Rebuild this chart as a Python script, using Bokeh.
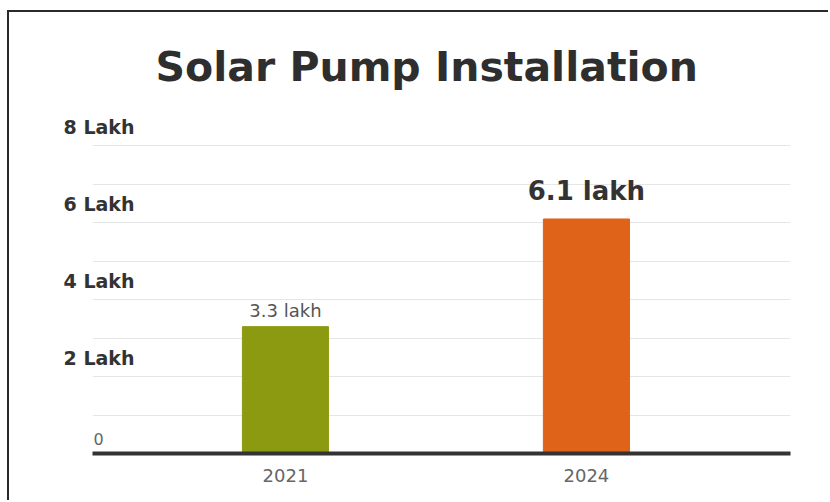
from bokeh.plotting import figure
from bokeh.models import FixedTicker, Label, Range1d, LinearAxis
from bokeh.core.properties import value
from bokeh.embed import file_html
from bokeh.resources import INLINE

# ---- data ----
years = ["2021", "2024"]
installs_lakh = [3.3, 6.1]
value_labels = ["3.3 lakh", "6.1 lakh"]
bar_colors = ["#8C9A12", "#DF6318"]
y_tick_values = [0, 2, 4, 6, 8]
y_tick_labels = ["0", "2 Lakh", "4 Lakh", "6 Lakh", "8 Lakh"]
grid_values = [1, 2, 3, 4, 5, 6, 7, 8]
title_text = "Solar Pump Installation"

xs = list(range(len(years)))
x_start, x_end = -0.641, 1.678
y_start, y_end = 0, 9.0
label_shift = 0.49  # vertical lift of y labels above their gridline (in lakh)

p = figure(width=821, height=490, output_backend="svg", toolbar_location=None,
           x_range=Range1d(x_start, x_end), y_range=Range1d(y_start, y_end),
           min_border_left=83, min_border_right=40, min_border_top=95,
           min_border_bottom=49)
p.styles = {"margin-top": "10px", "margin-left": "7px",
            "border-top": "2px solid #2a2a2a", "border-left": "2px solid #2a2a2a"}
p.outline_line_color = None
p.background_fill_color = "white"
p.border_fill_color = "white"

# title
p.title.text = title_text
p.title.align = "left"
p.title.offset = 63
p.title.standoff = 33
p.title.text_font = "DejaVu Sans"
p.title.text_font_style = "bold"
p.title.text_font_size = "41px"
p.title.text_color = "#2e2e2e"

p.vbar(x=xs, top=installs_lakh, width=0.286, color=bar_colors)

# x axis
p.xaxis.ticker = FixedTicker(ticks=xs)
p.xaxis.major_label_overrides = {i: y for i, y in zip(xs, years)}
p.xaxis.major_tick_line_color = None
p.xaxis.minor_tick_line_color = None
p.xaxis.axis_line_width = 4
p.xaxis.axis_line_color = "#333333"
p.xaxis.major_label_text_font = "DejaVu Sans"
p.xaxis.major_label_text_font_size = "18px"
p.xaxis.major_label_text_color = "#666666"
p.xaxis.major_label_standoff = 9

# y labels: axis on a shifted range so labels sit above their gridlines
p.yaxis.visible = False
p.extra_y_ranges = {"labels": Range1d(y_start - label_shift, y_end - label_shift)}
yax = LinearAxis(y_range_name="labels", ticker=FixedTicker(ticks=y_tick_values))
yax.major_label_overrides = {v: (t if v != 0 else "") for v, t in zip(y_tick_values, y_tick_labels)}
yax.axis_line_color = None
yax.major_tick_line_color = None
yax.minor_tick_line_color = None
yax.major_label_standoff = -48
yax.major_label_text_font = "DejaVu Sans"
yax.major_label_text_font_style = "bold"
yax.major_label_text_font_size = "19px"
yax.major_label_text_color = "#333333"
p.add_layout(yax, "left")

p.xgrid.visible = False
p.ygrid.ticker = FixedTicker(ticks=grid_values)
p.ygrid.grid_line_color = "#e6e6e6"
p.ygrid.grid_line_width = 1

# the "0" label drawn inside the plot area
zero_label = [t for v, t in zip(y_tick_values, y_tick_labels) if v == 0]
p.text(x=[x_start], y=[0], text=zero_label, x_offset=1, y_offset=-15,
       text_font=value("DejaVu Sans"), text_font_size=value("16px"),
       text_color="#666666", text_baseline="alphabetic")

# value labels
for i, (x, v, t) in enumerate(zip(xs, installs_lakh, value_labels)):
    if i == len(xs) - 1:
        p.add_layout(Label(x=x, y=v, text=t, y_offset=28, text_align="center",
                           text_font="DejaVu Sans", text_font_style="bold",
                           text_font_size="26px", text_color="#333333",
                           text_baseline="alphabetic"))
    else:
        p.add_layout(Label(x=x, y=v, text=t, y_offset=16, text_align="center",
                           text_font="DejaVu Sans", text_font_size="18px",
                           text_color="#555555", text_baseline="alphabetic"))

open("out.html", "w").write(file_html(p, INLINE))
